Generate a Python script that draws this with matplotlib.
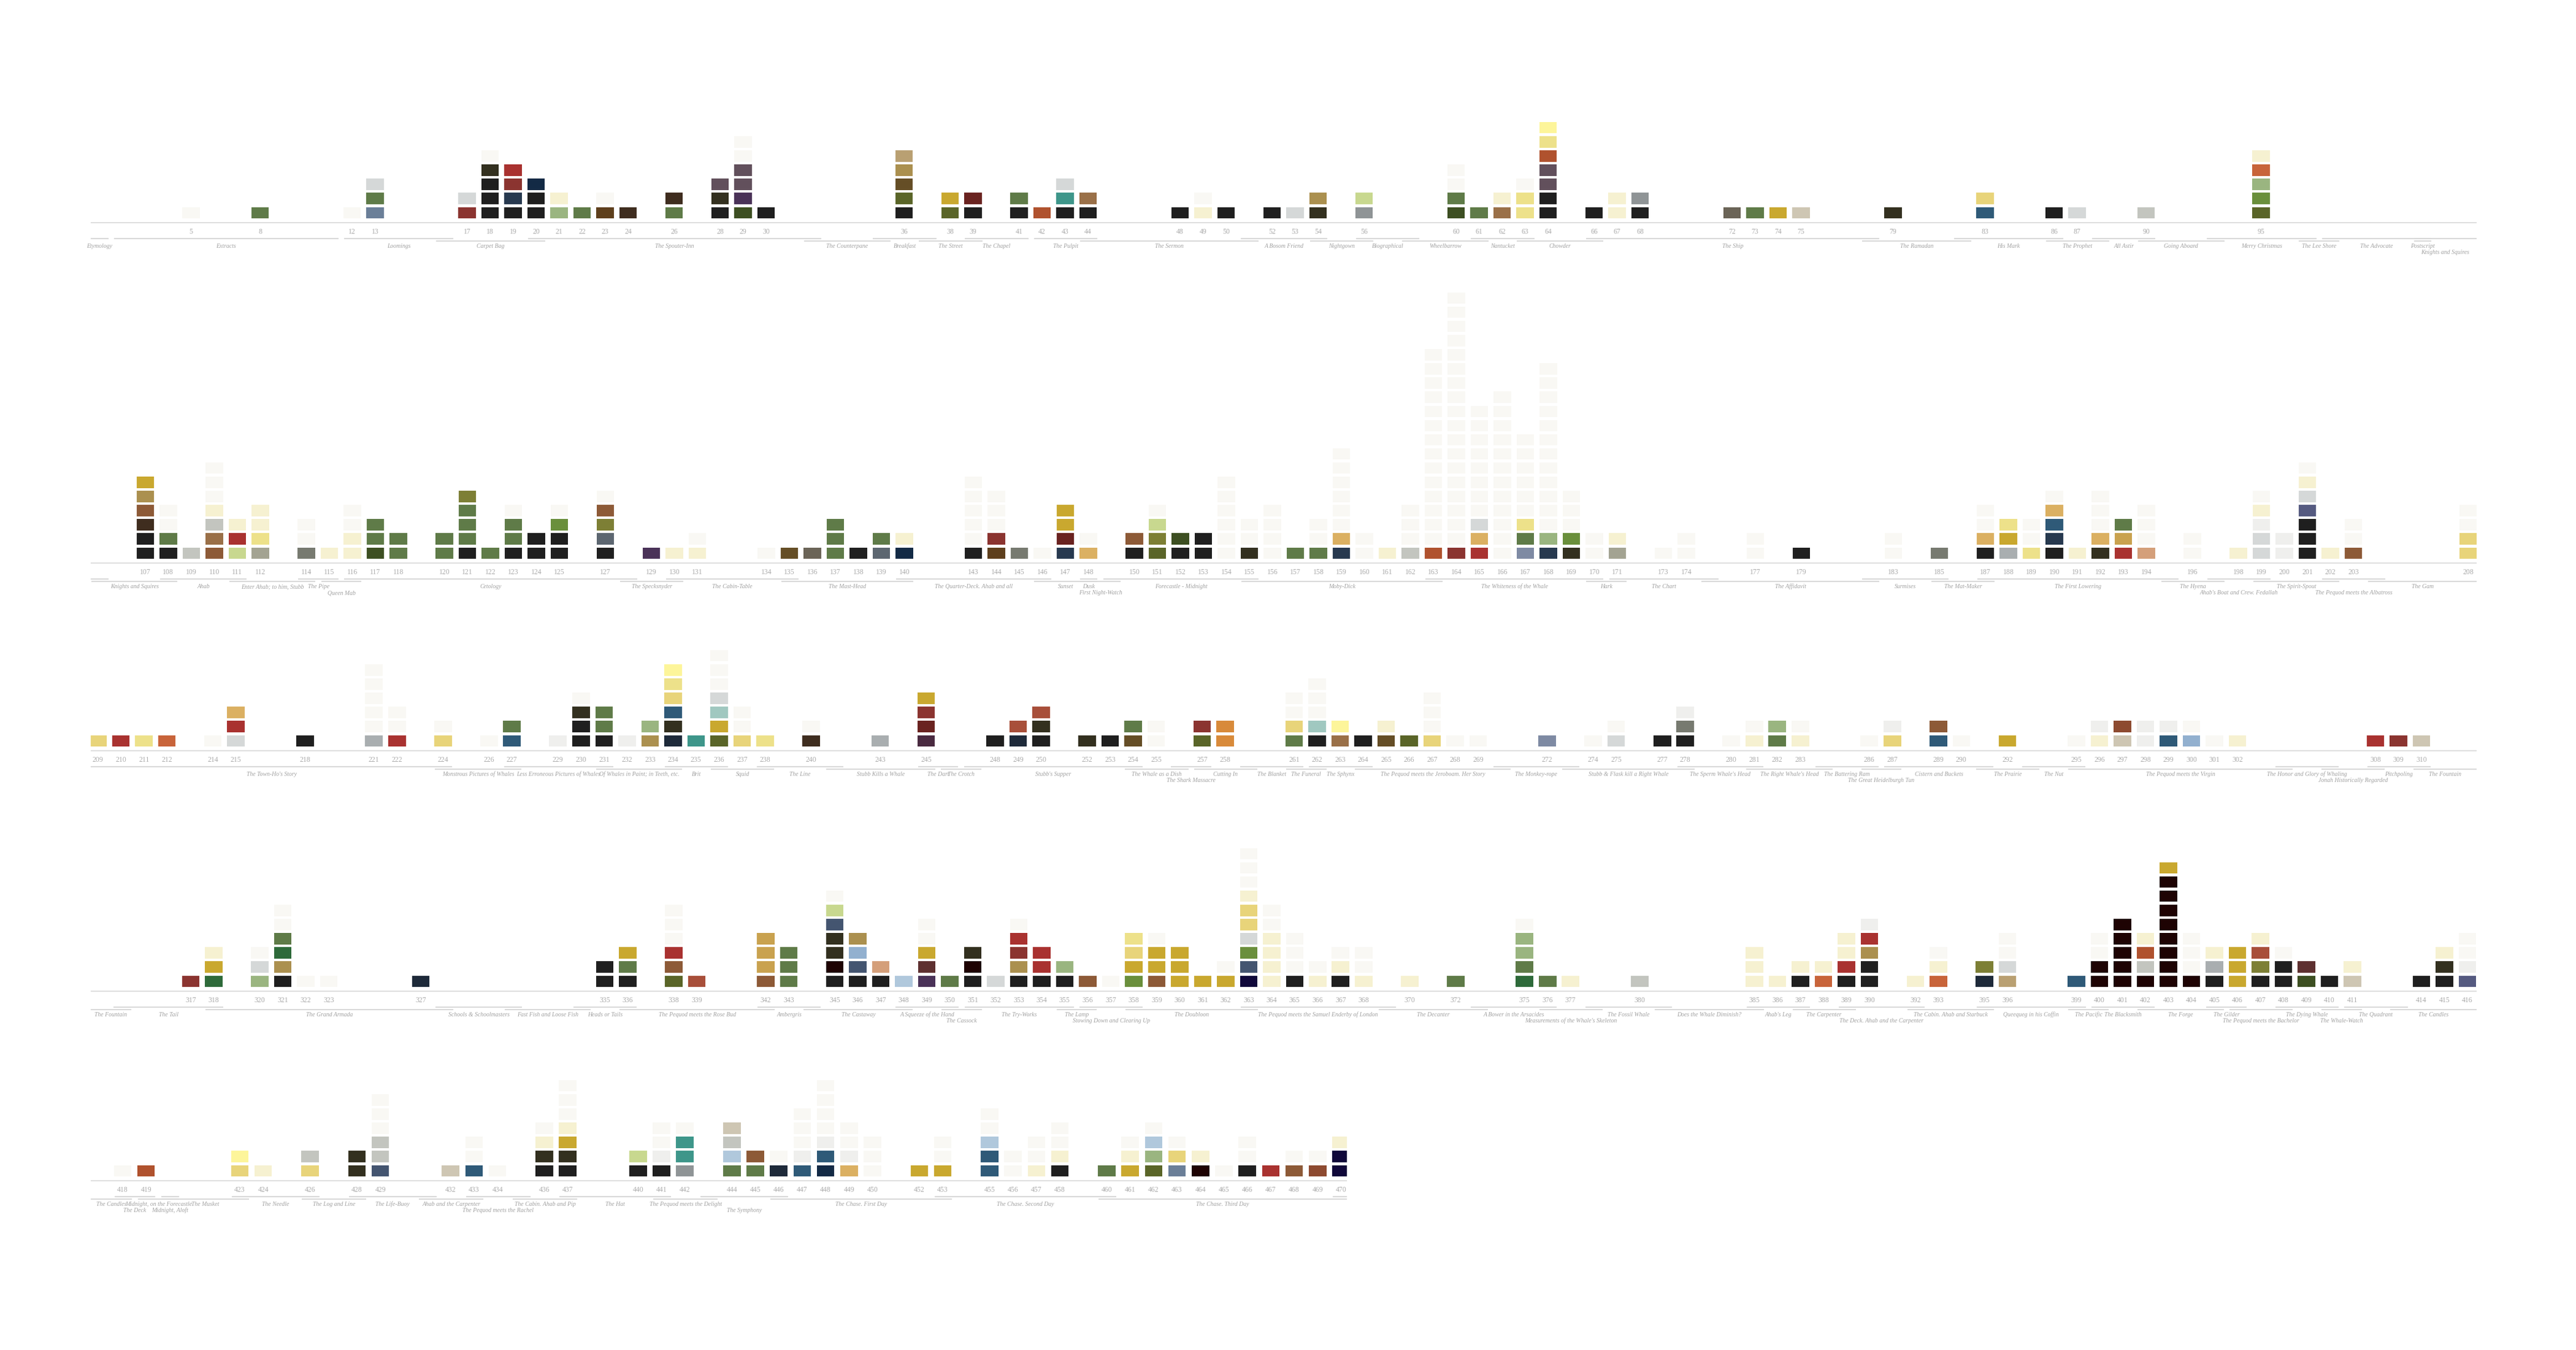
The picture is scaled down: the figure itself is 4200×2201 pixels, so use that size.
import matplotlib
matplotlib.use("Agg")
import matplotlib.pyplot as plt
from matplotlib.patches import Rectangle

# colour keys used in the stacks below
palette = {
    'k': '#1f1f1f', 'x': '#1e0303', 'd': '#33301f', 'w': '#f9f8f4', 'y': '#f6f1d1',
    'g': '#5f7b48', 'G': '#3d4f22', 'o': '#5a6528', 'L': '#6a8f3c', 'E': '#2e6a3a',
    'e': '#9ab580', 'h': '#c8d88f', 'O': '#7d7f35', 'r': '#a93230', 'R': '#8b3430',
    'M': '#6a2320', 'n': '#132a45', 'b': '#27394f', 'N': '#1e2a3a', 'j': '#2f5a78',
    'l': '#6b7f98', 'P': '#7e8aa3', 'i': '#92b0cf', 'I': '#b0c8dc', 'V': '#555a80',
    'q': '#10083a', 'p': '#4a3258', 'm': '#62505c', 's': '#d5d8d8', 'S': '#8f9496',
    'c': '#c3c5bf', 'D': '#777a70', 'A': '#a3a392', 'Y': '#c9a82f', 'u': '#e8d47a',
    'C': '#fdf59a', 'f': '#ede18a', 'T': '#b9a072', 'a': '#ab904f', 'B': '#8d5a37',
    'U': '#5e3f1c', 'Q': '#3f2d1f', 'F': '#9a7048', 'K': '#654e26', 't': '#3e968a',
    'X': '#a0c8c0', 'v': '#cec6b3', 'z': '#d49f7a', 'W': '#efefed', 'Z': '#6b6457',
    'H': '#5c6670', 'J': '#a9aeb0', '0': '#445570', '1': '#d88a3a', '2': '#c8643a',
    '3': '#b0522e', '4': '#a84f3a', '5': '#8d4a30', '6': '#dbb062', '7': '#c9a24f',
    '8': '#5e3030', '9': '#4a2a40',
}

# pages and their colour stacks (bottom -> top)
row1_pages = [5, 8, 12, 13, 17, 18, 19, 20, 21, 22, 23, 24, 26, 28, 29, 30, 36, 38, 39,
              41, 42, 43, 44, 48, 49, 50, 52, 53, 54, 56, 60, 61, 62, 63, 64, 66, 67, 68,
              72, 73, 74, 75, 79, 83, 86, 87, 90, 95]
row1_stacks = ['w', 'g', 'w', 'lgs', 'Rs', 'kkkdw', 'kbRr', 'kkn', 'ey', 'g', 'Uw', 'Q',
               'gQ', 'kdm', 'Gpmmww', 'k', 'koKaT', 'oY', 'kM', 'kg', '3', 'kts', 'kF',
               'k', 'yw', 'k', 'k', 's', 'da', 'Sh', 'Ggww', 'g', 'Fy', 'ffw', 'kkmm3fC',
               'k', 'yy', 'kS', 'Z', 'g', 'Y', 'v', 'd', 'ju', 'k', 's', 'c', 'oLe2y']

row2_pages = [107, 108, 109, 110, 111, 112, 114, 115, 116, 117, 118, 120, 121, 122, 123,
              124, 125, 127, 129, 130, 131, 134, 135, 136, 137, 138, 139, 140, 143, 144,
              145, 146, 147, 148, 150, 151, 152, 153, 154, 155, 156, 157, 158, 159, 160,
              161, 162, 163, 164, 165, 166, 167, 168, 169, 170, 171, 173, 174, 177, 179,
              183, 185, 187, 188, 189, 190, 191, 192, 193, 194, 196, 198, 199, 200, 201,
              202, 203, 208]
row2_stacks = ['kkQBaY', 'kgww', 'c', 'BFcywww', 'hry', 'Afyy', 'Dww', 'y', 'yyww', 'Ggg',
               'gg', 'gg', 'kgggO', 'g', 'kggw', 'kk', 'kkLw', 'kHOBw', 'p', 'y', 'yw',
               'w', 'K', 'Z', 'ggg', 'k', 'Hg', 'ny', 'kwwwww', 'URwww', 'D', 'w', 'bMYY',
               '6w', 'kB', 'oOhw', 'kG', 'kk', 'wwwwww', 'dww', 'wwww', 'g', 'gww',
               'b6wwwwww', 'ww', 'y', 'cwww', '3wwwwwwwwwwwwww', 'Rwwwwwwwwwwwwwwwwww',
               'r6swwwwwwww', 'wwwwwwwwwwww', 'Pgfwwwwww', 'bewwwwwwwwwwww', 'dLwww',
               'ww', 'Ay', 'w', 'ww', 'ww', 'k', 'ww', 'D', 'k6ww', 'JYf', 'fww', 'kbj6w',
               'y', 'd6www', 'r7g', 'zwww', 'ww', 'y', 'ssWyw', 'WW', 'kkkVsyw', 'y',
               'Bww', 'uuww']

row3_pages = [209, 210, 211, 212, 214, 215, 218, 221, 222, 224, 226, 227, 229, 230, 231,
              232, 233, 234, 235, 236, 237, 238, 240, 243, 245, 248, 249, 250, 252, 253,
              254, 255, 257, 258, 261, 262, 263, 264, 265, 266, 267, 268, 269, 272, 274,
              275, 277, 278, 280, 281, 282, 283, 286, 287, 289, 290, 292, 295, 296, 297,
              298, 299, 300, 301, 302, 308, 309, 310]
row3_stacks = ['u', 'r', 'f', '2', 'w', 'sr6', 'k', 'Jwwwww', 'rww', 'uw', 'w', 'jg', 'W',
               'kkdw', 'kgg', 'W', 'ae', 'NdjufC', 't', 'oYXswww', 'uww', 'f', 'Qw', 'J',
               '9MRY', 'k', 'N4', 'kd4', 'd', 'k', 'Kg', 'ww', 'oR', '11', 'guww', 'kXwww',
               'FC', 'k', 'Ky', 'o', 'uwww', 'w', 'w', 'P', 'w', 'sw', 'k', 'kDW', 'w',
               'yw', 'ge', 'yw', 'w', 'uW', 'jB', 'w', 'Y', 'w', 'yW', 'v5', 'WW', 'jW',
               'iw', 'w', 'y', 'r', 'R', 'v']

row4_pages = [317, 318, 320, 321, 322, 323, 327, 335, 336, 338, 339, 342, 343, 345, 346,
              347, 348, 349, 350, 351, 352, 353, 354, 355, 356, 357, 358, 359, 360, 361,
              362, 363, 364, 365, 366, 367, 368, 370, 372, 375, 376, 377, 380, 385, 386,
              387, 388, 389, 390, 392, 393, 395, 396, 399, 400, 401, 402, 403, 404, 405,
              406, 407, 408, 409, 410, 411, 414, 415, 416]
row4_stacks = ['R', 'EYy', 'esw', 'kaEgww', 'w', 'w', 'N', 'kk', 'kgY', 'oBrwww', '4',
               'B777', 'ggg', 'kxdd0hw', 'k0ia', 'kz', 'I', 'p8Yww', 'g', 'kxd', 's',
               'kaRrw', 'krr', 'ke', 'B', 'w', 'LYuf', 'BYYw', 'YYY', 'Y', 'Yw',
               'q0Lsuuywww', 'yyyyww', 'kwww', 'yw', 'kyw', 'yww', 'y', 'g', 'Egeew', 'g',
               'y', 'c', 'yyy', 'y', 'ky', '2y', 'kryy', 'kkarW', 'y', '2yw', 'NO', 'Tsww',
               'j', 'xxww', 'xxxxx', 'xc3y', 'xxxxxxxxY', 'xwww', 'kJy', 'YYY', 'kO4y',
               'kkw', 'G8', 'k', 'vy', 'k', 'kdy', 'VWww']

row5_pages = [418, 419, 423, 424, 426, 428, 429, 432, 433, 434, 436, 437, 440, 441, 442,
              444, 445, 446, 447, 448, 449, 450, 452, 453, 455, 456, 457, 458, 460, 461,
              462, 463, 464, 465, 466, 467, 468, 469, 470]
row5_stacks = ['w', '3', 'uC', 'y', 'uc', 'dd', '0ccwww', 'v', 'jww', 'w', 'kdyw',
               'kdYywww', 'kh', 'kWww', 'Sttw', 'gIcv', 'gB', 'Nw', 'jWwww', 'njWwwww',
               '6Www', 'www', 'Y', 'Yww', 'jjIww', 'ww', 'yww', 'kyww', 'g', 'Yyw', 'oeIw',
               'luw', 'xy', 'w', 'kww', 'r', 'Bw', '5w', 'qqy']

# chapters: name, first page, last page, label on second line
chapter_names = [
    'Etymology', 'Extracts', 'Loomings', 'Carpet Bag', 'The Spouter-Inn', 'The Counterpane',
    'Breakfast', 'The Street', 'The Chapel', 'The Pulpit', 'The Sermon', 'A Bosom Friend',
    'Nightgown', 'Biographical', 'Wheelbarrow', 'Nantucket', 'Chowder', 'The Ship',
    'The Ramadan', 'His Mark', 'The Prophet', 'All Astir', 'Going Aboard', 'Merry Christmas',
    'The Lee Shore', 'The Advocate', 'Postscript', 'Knights and Squires', 'Knights and Squires',
    'Ahab', 'Enter Ahab; to him, Stubb', 'The Pipe', 'Queen Mab', 'Cetology', 'The Specksnyder',
    'The Cabin-Table', 'The Mast-Head', 'The Quarter-Deck. Ahab and all', 'Sunset', 'Dusk',
    'First Night-Watch', 'Forecastle - Midnight', 'Moby-Dick', 'The Whiteness of the Whale',
    'Hark', 'The Chart', 'The Affidavit', 'Surmises', 'The Mat-Maker', 'The First Lowering',
    'The Hyena', "Ahab's Boat and Crew. Fedallah", 'The Spirit-Spout',
    'The Pequod meets the Albatross', 'The Gam', "The Town-Ho's Story",
    'Monstrous Pictures of Whales', 'Less Erroneous Pictures of Whales',
    'Of Whales in Paint; in Teeth, etc.', 'Brit', 'Squid', 'The Line', 'Stubb Kills a Whale',
    'The Dart', 'The Crotch', "Stubb's Supper", 'The Whale as a Dish', 'The Shark Massacre',
    'Cutting In', 'The Blanket', 'The Funeral', 'The Sphynx',
    'The Pequod meets the Jeroboam. Her Story', 'The Monkey-rope',
    'Stubb & Flask kill a Right Whale', "The Sperm Whale's Head", "The Right Whale's Head",
    'The Battering Ram', 'The Great Heidelburgh Tun', 'Cistern and Buckets', 'The Prairie',
    'The Nut', 'The Pequod meets the Virgin', 'The Honor and Glory of Whaling',
    'Jonah Historically Regarded', 'Pitchpoling', 'The Fountain', 'The Tail',
    'The Grand Armada', 'Schools & Schoolmasters', 'Fast Fish and Loose Fish', 'Heads or Tails',
    'The Pequod meets the Rose Bud', 'Ambergris', 'The Castaway', 'A Squeeze of the Hand',
    'The Cassock', 'The Try-Works', 'The Lamp', 'Stowing Down and Clearing Up', 'The Doubloon',
    'The Pequod meets the Samuel Enderby of London', 'The Decanter', 'A Bower in the Arsacides',
    "Measurements of the Whale's Skeleton", 'The Fossil Whale', 'Does the Whale Diminish?',
    "Ahab's Leg", 'The Carpenter', 'The Deck. Ahab and the Carpenter',
    'The Cabin. Ahab and Starbuck', 'Queequeg in his Coffin', 'The Pacific', 'The Blacksmith',
    'The Forge', 'The Gilder', 'The Pequod meets the Bachelor', 'The Dying Whale',
    'The Whale-Watch', 'The Quadrant', 'The Candles', 'The Deck', 'Midnight, on the Forecastle',
    'Midnight, Aloft', 'The Musket', 'The Needle', 'The Log and Line', 'The Life-Buoy',
    'Ahab and the Carpenter', 'The Pequod meets the Rachel', 'The Cabin. Ahab and Pip',
    'The Hat', 'The Pequod meets the Delight', 'The Symphony', 'The Chase. First Day',
    'The Chase. Second Day', 'The Chase. Third Day', 'Epilogue']
chapter_first = [1, 2, 12, 16, 20, 32, 35, 37, 39, 42, 44, 51, 54, 56, 58, 61, 63, 66, 78, 82,
                 86, 88, 90, 93, 97, 98, 102, 102, 105, 108, 111, 114, 115, 116, 128, 130, 135,
                 140, 146, 148, 148, 149, 155, 163, 170, 171, 175, 182, 185, 187, 195, 197, 199,
                 202, 204, 209, 224, 227, 231, 234, 236, 238, 241, 245, 246, 247, 254, 256, 257,
                 259, 261, 262, 264, 270, 273, 278, 281, 284, 286, 287, 291, 293, 295, 304, 306,
                 308, 310, 314, 318, 328, 331, 334, 336, 342, 344, 348, 350, 351, 355, 356, 358,
                 363, 369, 373, 376, 378, 381, 385, 387, 389, 392, 395, 399, 400, 402, 405, 406,
                 408, 410, 411, 413, 418, 419, 420, 420, 423, 426, 428, 431, 433, 435, 437, 441,
                 443, 446, 453, 460, 470]
chapter_last = [1, 11, 16, 20, 32, 35, 37, 39, 41, 44, 51, 54, 56, 58, 61, 63, 66, 78, 82, 86,
                88, 90, 93, 97, 98, 102, 102, 105, 108, 111, 114, 115, 116, 128, 130, 135, 140,
                146, 148, 148, 149, 155, 163, 170, 171, 175, 182, 185, 187, 195, 197, 199, 202,
                204, 208, 224, 227, 231, 234, 236, 238, 241, 245, 246, 247, 254, 256, 257, 259,
                261, 262, 264, 270, 273, 278, 281, 284, 286, 287, 291, 293, 295, 304, 306, 308,
                310, 314, 318, 328, 331, 334, 336, 342, 344, 348, 350, 351, 355, 356, 358, 363,
                369, 373, 376, 378, 381, 385, 387, 389, 392, 395, 399, 400, 402, 405, 406, 408,
                410, 411, 413, 418, 419, 420, 420, 423, 426, 428, 431, 433, 435, 437, 441, 443,
                446, 453, 460, 470, 470]
second_line = ['Knights and Squires@102', 'Queen Mab@115', 'First Night-Watch@148',
               "Ahab's Boat and Crew. Fedallah@197", 'The Pequod meets the Albatross@202',
               'The Shark Massacre@256', 'The Great Heidelburgh Tun@286',
               'Jonah Historically Regarded@306', 'The Cassock@350',
               'Stowing Down and Clearing Up@356', "Measurements of the Whale's Skeleton@376",
               'The Deck. Ahab and the Carpenter@389', 'The Pequod meets the Bachelor@406',
               'The Whale-Watch@410', 'The Deck@418', 'Midnight, Aloft@420',
               'The Pequod meets the Rachel@433', 'The Symphony@443']

# layout of the five strips (pixels of a 4200 x 2201 canvas)
W, H = 4200, 2201
PITCH = 23.1
row_first = [0.64, 104.63, 208.69, 312.65, 416.64]
row_last = [104.37, 208.36, 312.40, 416.40, 470.25]
row_base = [363, 918, 1224, 1616, 1925]
row_width = [3890, 3890, 3890, 3890, 2048]
LEFT = 148
YMIN, YMAX = -2.6, 20.0

GRID = '#d6d6d6'
NUM = '#ababab'
LAB = '#a2a2a2'

pages = row1_pages + row2_pages + row3_pages + row4_pages + row5_pages
stacks = row1_stacks + row2_stacks + row3_stacks + row4_stacks + row5_stacks

# bar level: flip when a chapter shares a page with the previous one
levels = []
prev_end = -1
for s, e in zip(chapter_first, chapter_last):
    lvl = (1 - levels[-1]) if (levels and s <= prev_end) else 0
    levels.append(lvl)
    prev_end = e

fig = plt.figure(figsize=(W / 100, H / 100), dpi=100)
fig.patch.set_facecolor('white')

for r in range(5):
    x0, x1 = row_first[r], row_last[r]
    wpx = row_width[r]
    ppp = wpx / (x1 - x0)
    bottom = (H - row_base[r] + YMIN * PITCH) / H
    ax = fig.add_axes([LEFT / W, bottom, wpx / W, (YMAX - YMIN) * PITCH / H])
    ax.set_xlim(x0, x1)
    ax.set_ylim(YMIN, YMAX)
    ax.axis('off')
    ax.patch.set_alpha(0)

    ax.plot([x0, x1], [0, 0], color=GRID, lw=1.1, solid_capstyle='butt')

    bw = 28.6 / ppp
    for p, st in zip(pages, stacks):
        if not (x0 <= p <= x1):
            continue
        for i, key in enumerate(st):
            ax.add_patch(Rectangle((p - bw / 2, 0.3 + i), bw, 0.8,
                                   facecolor=palette[key], edgecolor='none'))
        ax.text(p, -0.66, str(p), ha='center', va='center', fontsize=8.5,
                family='Liberation Serif', color=NUM)

    for name, s, e, lvl in zip(chapter_names, chapter_first, chapter_last, levels):
        a = max(s - 0.35, x0)
        b = min(e + 0.4, x1)
        if b <= a:
            continue
        yb = -1.13 - 0.18 * lvl
        ax.plot([a, b], [yb, yb], color=GRID, lw=1.3, solid_capstyle='butt')
        # a sliver of a chapter carried over from the previous strip gets no label
        if b - a < 1.0 and (a == x0 or b == x1):
            continue
        low = f'{name}@{s}' in second_line
        ax.text((a + b) / 2, -2.1 if low else -1.66, name, ha='center', va='center',
                fontsize=7, family='Liberation Serif', style='italic', color=LAB,
                clip_on=False)

fig.savefig('out.png', dpi=100, facecolor='white')
